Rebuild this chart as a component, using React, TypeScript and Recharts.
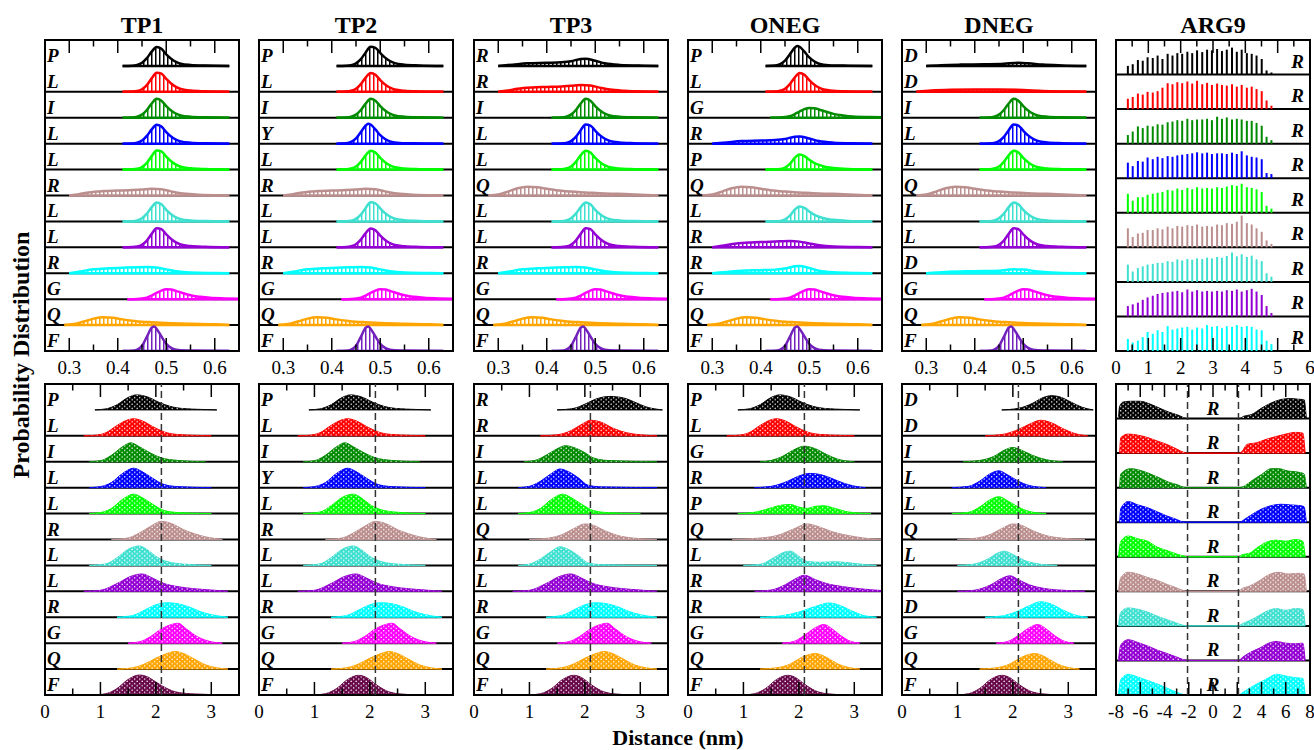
import React from 'react'
import {
  Area,
  Bar,
  CartesianGrid,
  ComposedChart,
  ReferenceArea,
  ReferenceLine,
  Scatter,
  XAxis,
  YAxis,
} from 'recharts'

type Pt = [number, number]

// ---------- labels ----------
const titles = ['TP1', 'TP2', 'TP3', 'ONEG', 'DNEG', 'ARG9']
const resTP1 = ['P', 'L', 'I', 'L', 'L', 'R', 'L', 'L', 'R', 'G', 'Q', 'F']
const resTP2 = ['P', 'L', 'I', 'Y', 'L', 'R', 'L', 'L', 'R', 'G', 'Q', 'F']
const resTP3 = ['R', 'R', 'I', 'L', 'L', 'Q', 'L', 'L', 'R', 'G', 'Q', 'F']
const resONEG = ['P', 'L', 'G', 'R', 'P', 'Q', 'L', 'R', 'R', 'G', 'Q', 'F']
const resDNEG = ['D', 'D', 'I', 'L', 'L', 'Q', 'L', 'L', 'D', 'G', 'Q', 'F']
const resARG9 = ['R', 'R', 'R', 'R', 'R', 'R', 'R', 'R', 'R']

// ---------- colours (row order, top to bottom) ----------
const colorsTop = ['#000000', '#ff0000', '#008b00', '#0000ff', '#00ff00', '#bc8f8f', '#40e0d0', '#9400d3', '#00ffff', '#ff00ff', '#ffa500', '#7221bc']
const colorsBottom = ['#000000', '#ff0000', '#008b00', '#0000ff', '#00ff00', '#bc8f8f', '#40e0d0', '#9400d3', '#00ffff', '#ff00ff', '#ffa500', '#670748']
const colorsArg = ['#000000', '#ff0000', '#008b00', '#0000ff', '#00ff00', '#bc8f8f', '#40e0d0', '#9400d3', '#00ffff']

// ---------- axes ----------
const topDomain: [number, number] = [0.25, 0.65]
const topTicks = [0.3, 0.35, 0.4, 0.45, 0.5, 0.55, 0.6]
const topMajor = [0.3, 0.4, 0.5, 0.6]
const topTickLabels = ['0.3', '0.4', '0.5', '0.6']

const botDomain: [number, number] = [0, 3.5]
const botTicks = [0, 0.5, 1, 1.5, 2, 2.5, 3]
const botMajor = [0, 1, 2, 3]
const botTickLabels = ['0', '1', '2', '3']

const argTopDomain: [number, number] = [0, 6]
const argTopTicks = [0, 0.5, 1, 1.5, 2, 2.5, 3, 3.5, 4, 4.5, 5, 5.5, 6]
const argTopMajor = [0, 1, 2, 3, 4, 5, 6]
const argTopTickLabels = ['0', '1', '2', '3', '4', '5', '6']

const argBotDomain: [number, number] = [-8, 8]
const argBotTicks = [-8, -7, -6, -5, -4, -3, -2, -1, 0, 1, 2, 3, 4, 5, 6, 7, 8]
const argBotMajor = [-8, -6, -4, -2, 0, 2, 4, 6, 8]
const argBotTickLabels = ['-8', '-6', '-4', '-2', '0', '2', '4', '6', '8']

const cutoffTP = [2.1]
const cutoffArg = [-2.1, 2.1]

// ---------- top-row distributions (distance nm, height in row units) ----------
const pk48: Pt[] = [[0.41, 0], [0.43, 0.01], [0.44, 0.04], [0.45, 0.12], [0.46, 0.3], [0.47, 0.55], [0.48, 0.73], [0.49, 0.66], [0.5, 0.45], [0.51, 0.28], [0.52, 0.16], [0.53, 0.09], [0.55, 0.04], [0.58, 0.015], [0.63, 0]]
const pk48b: Pt[] = [[0.41, 0], [0.43, 0.01], [0.44, 0.03], [0.45, 0.1], [0.46, 0.26], [0.47, 0.52], [0.48, 0.74], [0.49, 0.7], [0.5, 0.5], [0.51, 0.32], [0.52, 0.19], [0.53, 0.11], [0.55, 0.05], [0.58, 0.02], [0.63, 0]]
const pk47: Pt[] = [[0.41, 0], [0.43, 0.02], [0.44, 0.07], [0.45, 0.2], [0.46, 0.45], [0.47, 0.7], [0.475, 0.77], [0.48, 0.74], [0.49, 0.55], [0.5, 0.33], [0.51, 0.18], [0.52, 0.09], [0.54, 0.03], [0.58, 0.01], [0.63, 0]]
const pk48t: Pt[] = [[0.41, 0], [0.44, 0.02], [0.45, 0.08], [0.46, 0.22], [0.47, 0.45], [0.48, 0.58], [0.49, 0.52], [0.5, 0.38], [0.51, 0.26], [0.52, 0.18], [0.53, 0.12], [0.55, 0.06], [0.58, 0.02], [0.63, 0]]
const pkF: Pt[] = [[0.41, 0], [0.43, 0.01], [0.44, 0.05], [0.45, 0.2], [0.46, 0.55], [0.47, 0.9], [0.475, 0.95], [0.48, 0.86], [0.49, 0.56], [0.5, 0.28], [0.51, 0.12], [0.52, 0.05], [0.54, 0.015], [0.63, 0]]
const skewG: Pt[] = [[0.42, 0], [0.44, 0.01], [0.46, 0.06], [0.47, 0.14], [0.48, 0.24], [0.49, 0.33], [0.5, 0.38], [0.51, 0.37], [0.52, 0.32], [0.53, 0.26], [0.54, 0.2], [0.55, 0.15], [0.57, 0.09], [0.59, 0.05], [0.62, 0.03], [0.65, 0.02]]
const broadQ: Pt[] = [[0.29, 0], [0.31, 0.04], [0.33, 0.14], [0.35, 0.25], [0.37, 0.3], [0.39, 0.28], [0.41, 0.22], [0.43, 0.17], [0.45, 0.13], [0.47, 0.11], [0.5, 0.08], [0.55, 0.05], [0.6, 0.03], [0.63, 0]]
const broadQb: Pt[] = [[0.28, 0], [0.3, 0.04], [0.32, 0.15], [0.34, 0.28], [0.36, 0.34], [0.38, 0.32], [0.4, 0.26], [0.42, 0.2], [0.45, 0.15], [0.48, 0.12], [0.52, 0.08], [0.57, 0.05], [0.63, 0]]
const rBroad: Pt[] = [[0.3, 0], [0.32, 0.05], [0.34, 0.12], [0.37, 0.17], [0.4, 0.19], [0.43, 0.21], [0.45, 0.23], [0.47, 0.26], [0.49, 0.24], [0.51, 0.16], [0.53, 0.09], [0.56, 0.04], [0.6, 0.01], [0.63, 0]]
const rFlat: Pt[] = [[0.3, 0], [0.32, 0.06], [0.35, 0.15], [0.38, 0.19], [0.41, 0.21], [0.44, 0.23], [0.46, 0.24], [0.48, 0.22], [0.5, 0.15], [0.52, 0.08], [0.55, 0.03], [0.6, 0.01], [0.63, 0]]
const rBump: Pt[] = [[0.3, 0], [0.33, 0.05], [0.36, 0.1], [0.4, 0.12], [0.43, 0.14], [0.45, 0.18], [0.47, 0.27], [0.48, 0.28], [0.5, 0.2], [0.52, 0.1], [0.55, 0.04], [0.6, 0.01], [0.63, 0]]
const dFlat: Pt[] = [[0.3, 0], [0.33, 0.03], [0.37, 0.05], [0.42, 0.06], [0.46, 0.08], [0.49, 0.12], [0.51, 0.1], [0.54, 0.05], [0.58, 0.02], [0.63, 0]]
const dLow: Pt[] = [[0.28, 0], [0.31, 0.05], [0.35, 0.08], [0.4, 0.09], [0.45, 0.09], [0.5, 0.07], [0.54, 0.03], [0.6, 0.01], [0.63, 0]]
const dBump: Pt[] = [[0.3, 0], [0.34, 0.05], [0.4, 0.08], [0.45, 0.1], [0.48, 0.15], [0.5, 0.14], [0.53, 0.07], [0.57, 0.02], [0.63, 0]]

const tp1Top = [pk48, pk48b, pk48, pk48, pk48b, rBroad, pk48, pk48b, rFlat, skewG, broadQ, pkF]
const tp2Top = [pk48b, pk48, pk48, pk47, pk48, rBroad, pk48b, pk48, rFlat, skewG, broadQ, pkF]
const tp3Top = [rBump, rBroad, pk48, pk48b, pk48, broadQb, pk48, pk48b, rFlat, skewG, broadQ, pkF]
const onegTop = [pk47, pk48, skewG, rBump, pk48t, broadQb, pk48t, rFlat, rBump, skewG, broadQ, pkF]
const dnegTop = [dFlat, dLow, pk48, pk48b, pk48, broadQb, pk48, pk48b, dBump, skewG, broadQ, pkF]

// ---------- bottom-row distributions (distance nm, height in row units) ----------
const bP16: Pt[] = [[0.9, 0], [1.1, 0.04], [1.3, 0.2], [1.5, 0.48], [1.65, 0.58], [1.85, 0.5], [2.05, 0.3], [2.25, 0.14], [2.5, 0.05], [2.8, 0.02], [3.1, 0]]
const bL16: Pt[] = [[0.7, 0], [0.9, 0.02], [1.1, 0.12], [1.3, 0.4], [1.5, 0.62], [1.6, 0.66], [1.75, 0.58], [1.95, 0.35], [2.15, 0.15], [2.4, 0.05], [2.7, 0.02], [3.0, 0]]
const bI15: Pt[] = [[0.8, 0], [1.0, 0.04], [1.2, 0.25], [1.4, 0.58], [1.55, 0.73], [1.7, 0.58], [1.9, 0.34], [2.1, 0.15], [2.4, 0.05], [2.9, 0]]
const bL16b: Pt[] = [[0.8, 0], [1.0, 0.04], [1.2, 0.2], [1.4, 0.55], [1.6, 0.75], [1.75, 0.62], [1.95, 0.35], [2.15, 0.12], [2.4, 0.04], [3.0, 0]]
const bR21: Pt[] = [[1.2, 0], [1.5, 0.06], [1.7, 0.25], [1.9, 0.5], [2.1, 0.7], [2.3, 0.6], [2.5, 0.38], [2.7, 0.22], [2.9, 0.1], [3.2, 0]]
const bL17: Pt[] = [[0.8, 0], [1.1, 0.06], [1.3, 0.3], [1.5, 0.62], [1.7, 0.75], [1.85, 0.6], [2.0, 0.35], [2.2, 0.15], [2.5, 0.05], [3.0, 0]]
const bV17: Pt[] = [[0.7, 0], [1.0, 0.04], [1.3, 0.3], [1.55, 0.58], [1.75, 0.67], [1.95, 0.5], [2.15, 0.3], [2.4, 0.18], [2.7, 0.1], [3.0, 0.05], [3.3, 0]]
const bC22: Pt[] = [[1.3, 0], [1.6, 0.08], [1.8, 0.28], [2.0, 0.48], [2.2, 0.56], [2.4, 0.52], [2.6, 0.4], [2.8, 0.22], [3.0, 0.1], [3.3, 0]]
const bG23: Pt[] = [[1.5, 0], [1.7, 0.05], [1.9, 0.25], [2.1, 0.55], [2.3, 0.73], [2.4, 0.77], [2.55, 0.55], [2.75, 0.25], [2.95, 0.08], [3.2, 0]]
const bQ23: Pt[] = [[1.3, 0], [1.6, 0.06], [1.8, 0.2], [2.0, 0.42], [2.2, 0.6], [2.35, 0.68], [2.5, 0.6], [2.7, 0.38], [2.9, 0.16], [3.1, 0.05], [3.3, 0]]
const bF17: Pt[] = [[0.9, 0], [1.1, 0.05], [1.3, 0.25], [1.5, 0.6], [1.7, 0.77], [1.85, 0.7], [2.0, 0.5], [2.2, 0.25], [2.4, 0.1], [2.7, 0.04], [3.4, 0]]
const bF18: Pt[] = [[1.0, 0], [1.2, 0.05], [1.4, 0.25], [1.6, 0.6], [1.8, 0.76], [1.95, 0.66], [2.1, 0.42], [2.3, 0.16], [2.5, 0.05], [2.9, 0]]
const tR24: Pt[] = [[1.5, 0], [1.8, 0.06], [2.0, 0.22], [2.2, 0.42], [2.45, 0.52], [2.7, 0.46], [2.9, 0.3], [3.1, 0.12], [3.4, 0]]
const tR21: Pt[] = [[1.2, 0], [1.5, 0.04], [1.75, 0.2], [1.95, 0.45], [2.1, 0.6], [2.3, 0.52], [2.5, 0.3], [2.75, 0.12], [3.0, 0.04], [3.3, 0]]
const tI17: Pt[] = [[0.9, 0], [1.1, 0.05], [1.3, 0.25], [1.5, 0.5], [1.65, 0.62], [1.8, 0.55], [2.0, 0.35], [2.15, 0.15], [2.4, 0.05], [3.3, 0]]
const tL155: Pt[] = [[0.8, 0], [1.0, 0.05], [1.2, 0.25], [1.4, 0.55], [1.55, 0.72], [1.7, 0.62], [1.9, 0.35], [2.05, 0.1], [2.3, 0.03], [3.3, 0]]
const bQ20: Pt[] = [[1.0, 0], [1.3, 0.04], [1.6, 0.2], [1.8, 0.42], [2.0, 0.6], [2.15, 0.55], [2.35, 0.35], [2.6, 0.15], [2.9, 0.05], [3.3, 0]]
const oG21: Pt[] = [[1.3, 0], [1.5, 0.05], [1.7, 0.2], [1.9, 0.45], [2.1, 0.6], [2.3, 0.5], [2.5, 0.28], [2.7, 0.1], [3.0, 0]]
const oR22: Pt[] = [[1.2, 0], [1.5, 0.05], [1.8, 0.25], [2.0, 0.45], [2.2, 0.55], [2.4, 0.5], [2.6, 0.35], [2.8, 0.18], [3.0, 0.06], [3.2, 0]]
const oP2: Pt[] = [[0.9, 0], [1.2, 0.05], [1.5, 0.22], [1.7, 0.33], [1.85, 0.35], [2.0, 0.25], [2.15, 0.2], [2.3, 0.28], [2.45, 0.3], [2.65, 0.2], [2.9, 0.06], [3.3, 0]]
const oQ22: Pt[] = [[0.8, 0], [1.2, 0.04], [1.6, 0.15], [1.9, 0.4], [2.15, 0.6], [2.35, 0.5], [2.6, 0.3], [2.9, 0.15], [3.2, 0.05], [3.5, 0]]
const oL18: Pt[] = [[1.0, 0], [1.3, 0.04], [1.55, 0.3], [1.75, 0.52], [1.85, 0.55], [2.0, 0.35], [2.15, 0.15], [2.4, 0.12], [2.65, 0.14], [2.9, 0.1], [3.2, 0.03], [3.4, 0]]
const oR21: Pt[] = [[1.2, 0], [1.5, 0.05], [1.75, 0.25], [1.95, 0.5], [2.1, 0.62], [2.3, 0.45], [2.5, 0.3], [2.8, 0.18], [3.1, 0.1], [3.5, 0.03]]
const oC25: Pt[] = [[1.3, 0], [1.7, 0.06], [2.0, 0.2], [2.3, 0.42], [2.55, 0.55], [2.75, 0.45], [2.95, 0.25], [3.15, 0.08], [3.4, 0]]
const oG24: Pt[] = [[1.7, 0], [1.9, 0.06], [2.1, 0.3], [2.3, 0.6], [2.45, 0.72], [2.6, 0.55], [2.75, 0.3], [2.9, 0.1], [3.1, 0]]
const oQ23: Pt[] = [[1.3, 0], [1.6, 0.05], [1.85, 0.2], [2.05, 0.45], [2.3, 0.6], [2.5, 0.45], [2.7, 0.2], [2.9, 0.06], [3.1, 0]]
const dD27: Pt[] = [[1.8, 0], [2.1, 0.06], [2.35, 0.25], [2.55, 0.48], [2.7, 0.55], [2.85, 0.5], [3.05, 0.3], [3.25, 0.1], [3.45, 0]]
const dD25: Pt[] = [[1.5, 0], [1.8, 0.05], [2.05, 0.2], [2.3, 0.45], [2.5, 0.6], [2.7, 0.5], [2.9, 0.28], [3.1, 0.1], [3.35, 0]]
const dI20: Pt[] = [[1.1, 0], [1.4, 0.05], [1.65, 0.2], [1.85, 0.45], [2.0, 0.55], [2.15, 0.45], [2.35, 0.25], [2.6, 0.08], [2.9, 0]]
const dL17: Pt[] = [[0.9, 0], [1.2, 0.05], [1.4, 0.25], [1.6, 0.55], [1.75, 0.65], [1.9, 0.5], [2.1, 0.25], [2.3, 0.08], [2.6, 0]]
const dL18: Pt[] = [[1.0, 0], [1.3, 0.05], [1.55, 0.25], [1.75, 0.5], [1.85, 0.55], [2.0, 0.42], [2.2, 0.2], [2.45, 0.06], [2.8, 0]]
const dL19: Pt[] = [[1.0, 0], [1.3, 0.04], [1.6, 0.25], [1.8, 0.5], [1.95, 0.6], [2.1, 0.45], [2.3, 0.25], [2.6, 0.1], [3.0, 0.03], [3.3, 0]]
const dQ24: Pt[] = [[1.4, 0], [1.7, 0.05], [1.95, 0.2], [2.15, 0.45], [2.4, 0.6], [2.6, 0.45], [2.8, 0.2], [3.0, 0.06], [3.2, 0]]

const tp1Bot = [bP16, bL16, bI15, bL16b, bL16b, bR21, bL17, bV17, bC22, bG23, bQ23, bF17]
const tp2Bot = [bP16, bL16, bI15, bL16b, bL17, bR21, bL17, bV17, bC22, bG23, bQ23, bF18]
const tp3Bot = [tR24, tR21, tI17, tL155, bL16b, bQ20, tL155, bV17, bC22, bG23, bQ23, bF18]
const onegBot = [bP16, bL16, oG21, oR22, oP2, oQ22, oL18, oR21, oC25, oG24, oQ23, bF18]
const dnegBot = [dD27, dD25, dI20, dL17, dL17, bQ20, dL18, dL19, dD25, oG24, dQ24, bF18]

// ---------- ARG9 ----------
const spikeX = [0.38, 0.53, 0.69, 0.84, 0.99, 1.15, 1.3, 1.45, 1.61, 1.76, 1.91, 2.06, 2.22, 2.37, 2.52, 2.68, 2.83, 2.98, 3.14, 3.29, 3.44, 3.6, 3.75, 3.9, 4.06, 4.21, 4.36, 4.52, 4.67, 4.82]
const argSpikes = [
  [0.25, 0.3, 0.42, 0.4, 0.5, 0.48, 0.55, 0.45, 0.6, 0.55, 0.62, 0.6, 0.66, 0.62, 0.7, 0.65, 0.72, 0.7, 0.74, 0.68, 0.72, 0.78, 0.66, 0.72, 0.62, 0.6, 0.55, 0.45, 0.12, 0.06],
  [0.3, 0.35, 0.45, 0.42, 0.5, 0.48, 0.52, 0.62, 0.75, 0.72, 0.78, 0.75, 0.8, 0.74, 0.82, 0.72, 0.76, 0.7, 0.74, 0.7, 0.68, 0.72, 0.65, 0.7, 0.62, 0.65, 0.58, 0.52, 0.25, 0.1],
  [0.25, 0.35, 0.5, 0.45, 0.52, 0.5, 0.56, 0.55, 0.62, 0.64, 0.68, 0.66, 0.72, 0.68, 0.7, 0.7, 0.72, 0.68, 0.78, 0.72, 0.76, 0.7, 0.72, 0.7, 0.66, 0.66, 0.6, 0.52, 0.2, 0.1],
  [0.45, 0.35, 0.5, 0.48, 0.6, 0.55, 0.62, 0.58, 0.64, 0.62, 0.66, 0.68, 0.7, 0.72, 0.75, 0.72, 0.74, 0.7, 0.72, 0.72, 0.7, 0.74, 0.7, 0.78, 0.66, 0.62, 0.6, 0.55, 0.15, 0.12],
  [0.55, 0.35, 0.45, 0.45, 0.52, 0.55, 0.58, 0.6, 0.66, 0.64, 0.7, 0.66, 0.72, 0.68, 0.74, 0.7, 0.72, 0.7, 0.74, 0.72, 0.76, 0.8, 0.78, 0.84, 0.74, 0.72, 0.68, 0.6, 0.2, 0.12],
  [0.55, 0.3, 0.4, 0.42, 0.5, 0.5, 0.55, 0.52, 0.6, 0.55, 0.62, 0.6, 0.64, 0.62, 0.66, 0.6, 0.62, 0.6, 0.66, 0.64, 0.7, 0.68, 0.74, 0.92, 0.7, 0.66, 0.55, 0.45, 0.2, 0.1],
  [0.5, 0.3, 0.4, 0.45, 0.5, 0.52, 0.55, 0.55, 0.6, 0.58, 0.65, 0.62, 0.66, 0.64, 0.68, 0.66, 0.7, 0.68, 0.72, 0.7, 0.75, 0.85, 0.74, 0.8, 0.72, 0.76, 0.65, 0.6, 0.25, 0.15],
  [0.3, 0.35, 0.4, 0.48, 0.55, 0.6, 0.65, 0.68, 0.7, 0.72, 0.74, 0.7, 0.78, 0.72, 0.76, 0.72, 0.74, 0.72, 0.74, 0.72, 0.76, 0.74, 0.78, 0.72, 0.76, 0.8, 0.72, 0.62, 0.3, 0.1],
  [0.35, 0.25, 0.3, 0.4, 0.55, 0.5, 0.6, 0.55, 0.72, 0.62, 0.65, 0.68, 0.7, 0.62, 0.68, 0.65, 0.75, 0.7, 0.72, 0.66, 0.72, 0.7, 0.75, 0.7, 0.72, 0.7, 0.62, 0.6, 0.3, 0.2],
]

const a0: Pt[] = [[-7.8, 0], [-7.7, 0.35], [-7.4, 0.48], [-6.8, 0.5], [-6.0, 0.5], [-5.2, 0.42], [-4.4, 0.3], [-3.6, 0.18], [-2.9, 0.1], [-2.5, 0.04], [-2.2, 0], [2.2, 0], [2.5, 0.06], [3.2, 0.12], [4.0, 0.3], [4.8, 0.45], [5.6, 0.55], [6.4, 0.58], [7.0, 0.56], [7.5, 0.55], [7.7, 0]]
const a1: Pt[] = [[-7.7, 0], [-7.6, 0.45], [-7.0, 0.55], [-6.2, 0.52], [-5.4, 0.45], [-4.6, 0.35], [-3.8, 0.25], [-3.0, 0.12], [-2.4, 0.02], [-2.1, 0], [2.1, 0], [2.4, 0.05], [2.8, 0.25], [3.6, 0.3], [4.4, 0.4], [5.2, 0.48], [6.0, 0.55], [6.8, 0.6], [7.4, 0.58], [7.6, 0]]
const a2: Pt[] = [[-7.7, 0], [-7.6, 0.4], [-6.8, 0.55], [-6.0, 0.5], [-5.2, 0.4], [-4.4, 0.28], [-3.6, 0.15], [-2.9, 0.08], [-2.5, 0.02], [-2.2, 0], [2.2, 0], [2.6, 0.05], [3.2, 0.2], [4.0, 0.38], [4.8, 0.55], [5.4, 0.55], [6.2, 0.48], [7.0, 0.45], [7.5, 0.4], [7.7, 0]]
const a3: Pt[] = [[-7.7, 0], [-7.6, 0.4], [-7.0, 0.6], [-6.2, 0.5], [-5.4, 0.42], [-4.6, 0.3], [-3.8, 0.18], [-3.0, 0.08], [-2.6, 0.02], [-2.2, 0], [2.2, 0], [2.5, 0.06], [3.2, 0.22], [4.0, 0.38], [4.8, 0.48], [5.6, 0.52], [6.4, 0.5], [7.2, 0.48], [7.5, 0.45], [7.7, 0]]
const a4: Pt[] = [[-7.8, 0], [-7.6, 0.45], [-7.0, 0.6], [-6.2, 0.52], [-5.4, 0.45], [-4.6, 0.28], [-3.8, 0.18], [-3.0, 0.08], [-2.4, 0.02], [-2.1, 0], [2.1, 0], [2.4, 0.06], [3.0, 0.1], [3.6, 0.25], [4.4, 0.42], [5.2, 0.48], [6.0, 0.45], [6.8, 0.5], [7.4, 0.45], [7.6, 0]]
const a5: Pt[] = [[-7.8, 0], [-7.6, 0.4], [-7.0, 0.55], [-6.2, 0.5], [-5.4, 0.4], [-4.6, 0.32], [-3.8, 0.2], [-3.0, 0.1], [-2.5, 0.03], [-2.1, 0], [2.1, 0], [2.4, 0.08], [3.0, 0.15], [3.8, 0.3], [4.6, 0.48], [5.4, 0.55], [6.2, 0.5], [7.0, 0.52], [7.5, 0.5], [7.7, 0]]
const a6: Pt[] = [[-7.8, 0], [-7.6, 0.4], [-7.0, 0.52], [-6.2, 0.48], [-5.4, 0.4], [-4.6, 0.28], [-3.8, 0.18], [-3.0, 0.08], [-2.5, 0.02], [-2.1, 0], [2.1, 0], [2.4, 0.06], [3.0, 0.15], [3.8, 0.3], [4.6, 0.45], [5.2, 0.5], [6.0, 0.45], [6.8, 0.5], [7.4, 0.48], [7.6, 0]]
const a7: Pt[] = [[-7.8, 0], [-7.6, 0.45], [-7.0, 0.6], [-6.2, 0.52], [-5.4, 0.42], [-4.6, 0.3], [-3.8, 0.2], [-3.0, 0.1], [-2.5, 0.03], [-2.1, 0], [2.1, 0], [2.4, 0.08], [3.0, 0.22], [3.8, 0.35], [4.6, 0.5], [5.2, 0.55], [6.0, 0.5], [6.8, 0.48], [7.4, 0.5], [7.6, 0]]
const a8: Pt[] = [[-7.8, 0], [-7.6, 0.45], [-7.0, 0.6], [-6.2, 0.52], [-5.4, 0.42], [-4.6, 0.32], [-3.8, 0.2], [-3.0, 0.08], [-2.5, 0.02], [-2.1, 0], [2.1, 0], [2.4, 0.06], [3.0, 0.2], [3.8, 0.35], [4.6, 0.5], [5.2, 0.6], [6.0, 0.55], [6.8, 0.5], [7.4, 0.48], [7.6, 0]]
const argBot = [a0, a1, a2, a3, a4, a5, a6, a7, a8]

// ---------- layout ----------
const FONT = "'Liberation Serif', 'DejaVu Serif', 'Times New Roman', serif"
const panelLefts = [45, 259, 474, 688, 902, 1116]
const PLOT_W = 194
const PLOT_H = 311
const TOP_Y = 40
const BOT_Y = 384
const PAD = 3
const PAD_X = 14
const AXIS_H = 34

type Kind = 'curve' | 'hist' | 'spike'

interface PanelProps {
  id: string
  left: number
  top: number
  kind: Kind
  rows?: Pt[][]
  spikes?: number[][]
  labels: string[]
  colors: string[]
  domain: [number, number]
  ticks: number[]
  majors: number[]
  majorLabels: string[]
  cutoffs?: number[]
  labelAt: 'left' | 'right' | 'center'
}

function Panel(p: PanelProps) {
  const n = p.labels.length
  const rowLines = p.labels.map((_, i) => i).concat([n])
  const majorIndex = (v: number) => p.majors.findIndex((m) => Math.abs(m - v) < 1e-6)

  // ticks point inwards on the bottom edge and on the top edge, labels sit under the bottom edge
  const edgeTick = (props: any) => {
    const { x, y, payload } = props
    const mi = majorIndex(payload.value)
    const len = mi >= 0 ? 13 : 6.5
    const yTop = y - PLOT_H
    return (
      <g>
        <line x1={x} x2={x} y1={y} y2={y - len} stroke="#000" strokeWidth={1.5} />
        <line x1={x} x2={x} y1={yTop} y2={yTop + len} stroke="#000" strokeWidth={1.5} />
        {mi >= 0 && (
          <text x={x} y={y + 23} textAnchor="middle" fontSize={19} fontFamily={FONT} fill="#000">
            {p.majorLabels[mi]}
          </text>
        )}
      </g>
    )
  }

  const labelX = p.labelAt === 'left' ? p.domain[0] : p.labelAt === 'right' ? p.domain[1] : 0
  const labelData = p.labels.map((t, i) => ({ x: labelX, y: n - 1 - i, t }))
  const labelShape = (props: any) => {
    const { cx, cy, payload } = props
    const anchor = p.labelAt === 'left' ? 'start' : p.labelAt === 'right' ? 'end' : 'middle'
    const dx = p.labelAt === 'left' ? 2 : p.labelAt === 'right' ? -6 : 0
    const dy = p.labelAt === 'right' ? 7 : 4
    return (
      <text x={cx + dx} y={cy - dy} textAnchor={anchor} fontSize={19} fontWeight="bold" fontStyle="italic" fontFamily={FONT} fill="#000">
        {payload.t}
      </text>
    )
  }

  const stripeId = `vs-${p.id}`
  const dotId = `wd-${p.id}`

  const spikeTable =
    p.kind === 'spike' && p.spikes
      ? spikeX.map((x, k) => {
          const o: any = { x }
          p.spikes!.forEach((h, i) => {
            o[`r${i}`] = [n - 1 - i, n - 1 - i + h[k]]
          })
          return o
        })
      : undefined

  return (
    <div style={{ position: 'absolute', left: p.left - PAD_X, top: p.top - PAD }}>
      <ComposedChart
        width={PLOT_W + 2 * PAD_X}
        height={PLOT_H + PAD + AXIS_H}
        data={spikeTable}
        margin={{ top: PAD, right: PAD_X, bottom: 0, left: PAD_X }}
      >
        <defs>
          <pattern id={stripeId} width={4} height={4} patternUnits="userSpaceOnUse">
            <rect x={1.5} y={0} width={2.5} height={4} fill="#fff" />
          </pattern>
          <pattern id={dotId} width={5} height={4.4} patternUnits="userSpaceOnUse">
            <circle cx={1.2} cy={1.1} r={0.75} fill="#fff" />
            <circle cx={3.7} cy={3.3} r={0.75} fill="#fff" />
          </pattern>
        </defs>
        <CartesianGrid vertical={false} stroke="#000" strokeWidth={2} />
        <XAxis
          type="number"
          dataKey="x"
          domain={p.domain}
          allowDataOverflow
          ticks={p.ticks}
          interval={0}
          tick={edgeTick}
          tickLine={false}
          axisLine={false}
          tickSize={0}
          tickMargin={0}
          height={AXIS_H}
        />
        {p.kind === 'spike' &&
          p.labels.map((_, i) => (
            <XAxis key={`bx${i}`} xAxisId={`b${i}`} type="number" dataKey="x" domain={p.domain} allowDataOverflow hide />
          ))}
        <YAxis type="number" dataKey="y" domain={[0, n]} ticks={rowLines} allowDataOverflow hide />

        {p.kind !== 'spike' &&
          p.rows!.map((shape, i) => {
            const base = n - 1 - i
            const data = shape.map(([x, v]) => ({ x, y: [base, base + v] }))
            const color = p.colors[i]
            return (
              <React.Fragment key={`row${i}`}>
                <Area
                  data={data}
                  dataKey="y"
                  type="monotone"
                  fill={color}
                  fillOpacity={1}
                  stroke={p.kind === 'hist' ? color : 'none'}
                  strokeWidth={1}
                  isAnimationActive={false}
                />
                <Area
                  data={data}
                  dataKey="y"
                  type="monotone"
                  fill={`url(#${p.kind === 'curve' ? stripeId : dotId})`}
                  fillOpacity={1}
                  stroke={p.kind === 'curve' ? color : 'none'}
                  strokeWidth={2.5}
                  isAnimationActive={false}
                />
              </React.Fragment>
            )
          })}

        {p.kind === 'spike' &&
          p.labels.map((_, i) => (
            <Bar
              key={`sp${i}`}
              xAxisId={`b${i}`}
              dataKey={`r${i}`}
              fill={p.colors[i]}
              barSize={2}
              isAnimationActive={false}
            />
          ))}

        {(p.cutoffs || []).map((c) => (
          <ReferenceLine key={`c${c}`} x={c} stroke="#333" strokeWidth={1.5} strokeDasharray="7 4" />
        ))}
        <ReferenceArea x1={p.domain[0]} x2={p.domain[1]} y1={0} y2={n} fill="none" stroke="#000" strokeWidth={2} fillOpacity={0} />
        <Scatter data={labelData} dataKey="y" shape={labelShape} isAnimationActive={false} />
      </ComposedChart>
    </div>
  )
}

const topRows = [tp1Top, tp2Top, tp3Top, onegTop, dnegTop]
const botRows = [tp1Bot, tp2Bot, tp3Bot, onegBot, dnegBot]
const residues = [resTP1, resTP2, resTP3, resONEG, resDNEG]

export default function App() {
  return (
    <div style={{ position: 'absolute', left: 0, top: 0, width: 1314, height: 750, background: '#fff', fontFamily: FONT, overflow: 'hidden' }}>
      <svg width={1314} height={750} style={{ position: 'absolute', left: 0, top: 0 }}>
        {titles.map((t, i) => (
          <text key={t} x={panelLefts[i] + PLOT_W / 2} y={33} textAnchor="middle" fontSize={24} fontWeight="bold" fontFamily={FONT}>
            {t}
          </text>
        ))}
        <text transform="translate(29,355) rotate(-90)" textAnchor="middle" fontSize={24} fontWeight="bold" fontFamily={FONT}>
          Probability Distribution
        </text>
        <text x={678} y={745} textAnchor="middle" fontSize={22} fontWeight="bold" fontFamily={FONT}>
          Distance (nm)
        </text>
      </svg>

      {topRows.map((rows, i) => (
        <Panel
          key={`t${i}`}
          id={`t${i}`}
          left={panelLefts[i]}
          top={TOP_Y}
          kind="curve"
          rows={rows}
          labels={residues[i]}
          colors={colorsTop}
          domain={topDomain}
          ticks={topTicks}
          majors={topMajor}
          majorLabels={topTickLabels}
          labelAt="left"
        />
      ))}
      <Panel
        id="t5"
        left={panelLefts[5]}
        top={TOP_Y}
        kind="spike"
        spikes={argSpikes}
        labels={resARG9}
        colors={colorsArg}
        domain={argTopDomain}
        ticks={argTopTicks}
        majors={argTopMajor}
        majorLabels={argTopTickLabels}
        labelAt="right"
      />

      {botRows.map((rows, i) => (
        <Panel
          key={`b${i}`}
          id={`b${i}`}
          left={panelLefts[i]}
          top={BOT_Y}
          kind="hist"
          rows={rows}
          labels={residues[i]}
          colors={colorsBottom}
          domain={botDomain}
          ticks={botTicks}
          majors={botMajor}
          majorLabels={botTickLabels}
          cutoffs={cutoffTP}
          labelAt="left"
        />
      ))}
      <Panel
        id="b5"
        left={panelLefts[5]}
        top={BOT_Y}
        kind="hist"
        rows={argBot}
        labels={resARG9}
        colors={colorsArg}
        domain={argBotDomain}
        ticks={argBotTicks}
        majors={argBotMajor}
        majorLabels={argBotTickLabels}
        cutoffs={cutoffArg}
        labelAt="center"
      />
    </div>
  )
}
